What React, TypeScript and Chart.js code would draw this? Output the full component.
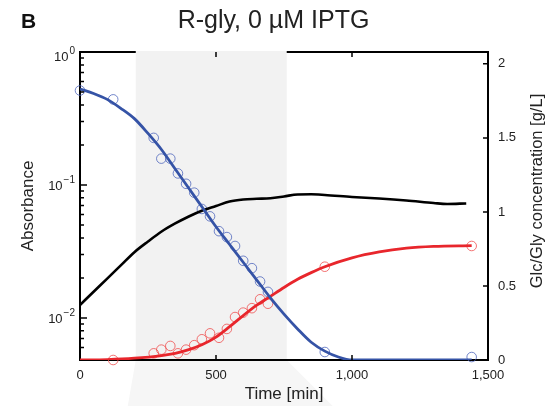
import { useEffect, useRef } from "react";
import { Chart, registerables } from "chart.js";

Chart.register(...registerables);

const FONT = "'Liberation Sans', Arial, Helvetica, sans-serif";

// ---- text ----
const panelLetter = "B";
const chartTitle = "R-gly, 0 µM IPTG";
const xTitle = "Time [min]";
const yLeftTitle = "Absorbance";
const yRightTitle = "Glc/Gly concentration [g/L]";

// ---- axes ----
const xRange = [0, 1500];
const xStep = 500;
const yLeftRange = [0.00483, 1];
const yLeftMajor = [1, 0.1, 0.01];
const yLeftExponents = ["0", "\u22121", "\u22122"];
const yRightRange = [0, 2.08];
const yRightStep = 0.5;
const shadeRange = [205, 760];

// ---- measured points (circles) ----
const obsTimes = [0, 122, 271, 299, 332, 360, 390, 420, 448, 478, 511, 540, 570, 600, 632, 662, 691, 900, 1440];
const glcObs = [1.82, 1.76, 1.5, 1.36, 1.36, 1.26, 1.19, 1.13, 1.02, 0.97, 0.87, 0.83, 0.77, 0.67, 0.62, 0.53, 0.46, 0.054, 0.02];
const prodObs = [null, 0.0, 0.045, 0.07, 0.095, 0.045, 0.07, 0.1, 0.14, 0.18, 0.15, 0.21, 0.29, 0.32, 0.35, 0.41, 0.38, 0.63, 0.77];

// ---- fitted / model curves ----
const glcFitTimes = [0, 50, 100, 150, 200, 250, 300, 350, 400, 450, 500, 550, 600, 650, 700, 750, 800, 850, 900, 950, 1000, 1100, 1200, 1300, 1440];
const glcFit = [1.83, 1.8, 1.76, 1.7, 1.63, 1.53, 1.42, 1.29, 1.16, 1.03, 0.9, 0.78, 0.66, 0.54, 0.42, 0.31, 0.21, 0.12, 0.06, 0.02, 0.0, 0, 0, 0, 0];

const prodFitTimes = [0, 100, 200, 300, 350, 400, 450, 500, 550, 600, 650, 700, 750, 800, 850, 900, 1000, 1100, 1200, 1300, 1440];
const prodFit = [0, 0.003, 0.012, 0.03, 0.045, 0.07, 0.105, 0.155, 0.225, 0.3, 0.37, 0.43, 0.49, 0.545, 0.59, 0.63, 0.69, 0.73, 0.755, 0.767, 0.772];

const absTimes = [0, 50, 100, 150, 200, 250, 300, 350, 400, 450, 500, 550, 600, 650, 700, 750, 800, 850, 900, 1000, 1100, 1200, 1300, 1350, 1420];
const absValues = [0.01253, 0.01574, 0.01977, 0.02485, 0.03124, 0.03758, 0.04467, 0.05136, 0.05799, 0.06433, 0.0695, 0.07516, 0.0778, 0.0787, 0.07943, 0.08199, 0.08491, 0.08511, 0.08413, 0.08128, 0.07912, 0.07646, 0.07322, 0.07198, 0.07262];

const zip = (xs: number[], ys: (number | null)[]) => xs.map((x, i) => ({ x, y: ys[i] }));

const decor = {
  id: "decor",
  beforeDraw(chart: any) {
    const { ctx, chartArea: a, scales } = chart;
    const x0 = scales.x.getPixelForValue(shadeRange[0]);
    const x1 = scales.x.getPixelForValue(shadeRange[1]);
    ctx.save();
    ctx.fillStyle = "#f6f6f6";
    ctx.beginPath();
    ctx.moveTo(x0, a.bottom);
    ctx.lineTo(x1, a.bottom);
    ctx.lineTo(x1 + 46, chart.height);
    ctx.lineTo(x0 - 8, chart.height);
    ctx.closePath();
    ctx.fill();
    ctx.restore();
  },
  beforeDatasetsDraw(chart: any) {
    const { ctx, chartArea: a, scales } = chart;
    const x0 = scales.x.getPixelForValue(shadeRange[0]);
    const x1 = scales.x.getPixelForValue(shadeRange[1]);
    ctx.save();
    ctx.strokeStyle = "#000";
    ctx.lineWidth = 2;
    ctx.beginPath();
    ctx.moveTo(a.left, a.top);
    ctx.lineTo(a.right, a.top);
    ctx.stroke();
    ctx.fillStyle = "#f2f2f2";
    ctx.fillRect(x0, a.top - 1, x1 - x0, a.bottom - a.top);
    ctx.restore();
  },
  afterDraw(chart: any) {
    const { ctx, chartArea: a, scales } = chart;
    ctx.save();
    ctx.strokeStyle = "#000";
    ctx.lineWidth = 1.5;
    ctx.beginPath();
    for (const t of scales.x.ticks) {
      if (t.value <= xRange[0] || t.value >= xRange[1]) continue;
      const px = scales.x.getPixelForValue(t.value);
      ctx.moveTo(px, a.bottom);
      ctx.lineTo(px, a.bottom - 5);
      ctx.moveTo(px, a.top);
      ctx.lineTo(px, a.top + 5);
    }
    for (const t of scales.y2.ticks) {
      if (t.value <= yRightRange[0]) continue;
      const py = scales.y2.getPixelForValue(t.value);
      ctx.moveTo(a.right, py);
      ctx.lineTo(a.right - 5, py);
    }
    for (const t of scales.y.ticks) {
      const lg = Math.log10(t.value);
      const mant = t.value / Math.pow(10, Math.floor(lg + 1e-9));
      if (Math.abs(mant - Math.round(mant)) > 1e-6) continue;
      const major = Math.abs(lg - Math.round(lg)) < 1e-6;
      const py = scales.y.getPixelForValue(t.value);
      ctx.moveTo(a.left, py);
      ctx.lineTo(a.left + (major ? 7 : 4), py);
    }
    ctx.stroke();

    ctx.fillStyle = "#222";
    ctx.textBaseline = "middle";
    yLeftMajor.forEach((v, i) => {
      let py = scales.y.getPixelForValue(v);
      if (py < a.top + 4) py = a.top + 4;
      ctx.font = `10px ${FONT}`;
      const ew = ctx.measureText(yLeftExponents[i]).width;
      ctx.font = `13px ${FONT}`;
      const bw = ctx.measureText("10").width;
      const right = a.left - 5;
      ctx.textAlign = "left";
      ctx.fillText("10", right - ew - bw - 1, py + 1);
      ctx.font = `10px ${FONT}`;
      ctx.fillText(yLeftExponents[i], right - ew, py - 5);
    });

    ctx.save();
    ctx.translate(537, 191);
    ctx.rotate(-Math.PI / 2);
    ctx.textAlign = "center";
    ctx.textBaseline = "middle";
    ctx.font = `16.5px ${FONT}`;
    ctx.fillStyle = "#222";
    ctx.fillText(yRightTitle, 0, 0);
    ctx.restore();

    ctx.font = `bold 21px ${FONT}`;
    ctx.fillStyle = "#111";
    ctx.textAlign = "left";
    ctx.textBaseline = "alphabetic";
    ctx.fillText(panelLetter, 21, 28);
    ctx.restore();
  },
};

export default function App() {
  const ref = useRef<HTMLCanvasElement | null>(null);
  useEffect(() => {
    if (!ref.current) return;
    const blue = "#3553a6";
    const red = "#e8262c";
    const chart = new Chart(ref.current, {
      type: "line",
      data: {
        datasets: [
          {
            label: "Glc/Gly fit",
            data: zip(glcFitTimes, glcFit),
            yAxisID: "y2",
            borderColor: blue,
            borderWidth: 2.8,
            pointRadius: 0,
            cubicInterpolationMode: "monotone",
            fill: false,
          },
          {
            label: "Product fit",
            data: zip(prodFitTimes, prodFit),
            yAxisID: "y2",
            borderColor: red,
            borderWidth: 2.8,
            pointRadius: 0,
            cubicInterpolationMode: "monotone",
            fill: false,
          },
          {
            label: "Absorbance",
            data: zip(absTimes, absValues),
            yAxisID: "y",
            borderColor: "#000",
            borderWidth: 2.6,
            pointRadius: 0,
            cubicInterpolationMode: "monotone",
            fill: false,
          },
          {
            label: "Glc/Gly data",
            data: zip(obsTimes, glcObs),
            yAxisID: "y2",
            showLine: false,
            clip: false,
            pointRadius: 4.8,
            pointBorderWidth: 1,
            pointBorderColor: "rgba(70,95,185,0.75)",
            pointBackgroundColor: "rgba(0,0,0,0)",
          },
          {
            label: "Product data",
            data: zip(obsTimes, prodObs),
            yAxisID: "y2",
            showLine: false,
            clip: false,
            pointRadius: 4.8,
            pointBorderWidth: 1,
            pointBorderColor: "rgba(240,80,80,0.8)",
            pointBackgroundColor: "rgba(0,0,0,0)",
          },
        ] as any,
      },
      options: {
        responsive: false,
        animation: false,
        layout: { padding: 0 },
        plugins: {
          legend: { display: false },
          tooltip: { enabled: false },
          title: {
            display: true,
            text: chartTitle,
            color: "#222",
            font: { family: FONT, size: 25, weight: "normal" as any },
            padding: { top: 6, bottom: 16 },
          },
        },
        scales: {
          x: {
            type: "linear",
            min: xRange[0],
            max: xRange[1],
            grid: { display: false, drawTicks: false },
            border: { display: true, color: "#000", width: 2 },
            ticks: {
              stepSize: xStep,
              maxRotation: 0,
              padding: 8,
              color: "#222",
              font: { family: FONT, size: 13 },
              callback: (v: any) => Number(v).toLocaleString("en-US"),
            },
            title: {
              display: true,
              text: xTitle,
              color: "#222",
              font: { family: FONT, size: 17 },
              padding: { top: 0, bottom: 1.5 },
            },
            afterFit: (s: any) => {
              s.height = 46;
            },
          },
          y: {
            type: "logarithmic",
            position: "left",
            min: yLeftRange[0],
            max: yLeftRange[1],
            grid: { display: false, drawTicks: false },
            border: { display: true, color: "#000", width: 2 },
            ticks: { display: false },
            title: {
              display: true,
              text: yLeftTitle,
              color: "#222",
              font: { family: FONT, size: 17 },
              padding: { top: 18.5, bottom: 0 },
            },
            afterFit: (s: any) => {
              s.width = 80;
            },
          },
          y2: {
            type: "linear",
            position: "right",
            min: yRightRange[0],
            max: yRightRange[1],
            grid: { display: false, drawTicks: false },
            border: { display: true, color: "#000", width: 2 },
            ticks: {
              stepSize: yRightStep,
              includeBounds: false,
              padding: 10,
              color: "#222",
              font: { family: FONT, size: 13 },
              callback: (v: any) => String(v),
            },
            afterFit: (s: any) => {
              s.width = 59;
            },
          },
        },
      } as any,
      plugins: [decor],
    });
    return () => chart.destroy();
  }, []);

  return (
    <div style={{ position: "fixed", left: 0, top: 0, width: 547, height: 406, background: "#fff" }}>
      <canvas ref={ref} width={547} height={406} style={{ display: "block" }} />
    </div>
  );
}
